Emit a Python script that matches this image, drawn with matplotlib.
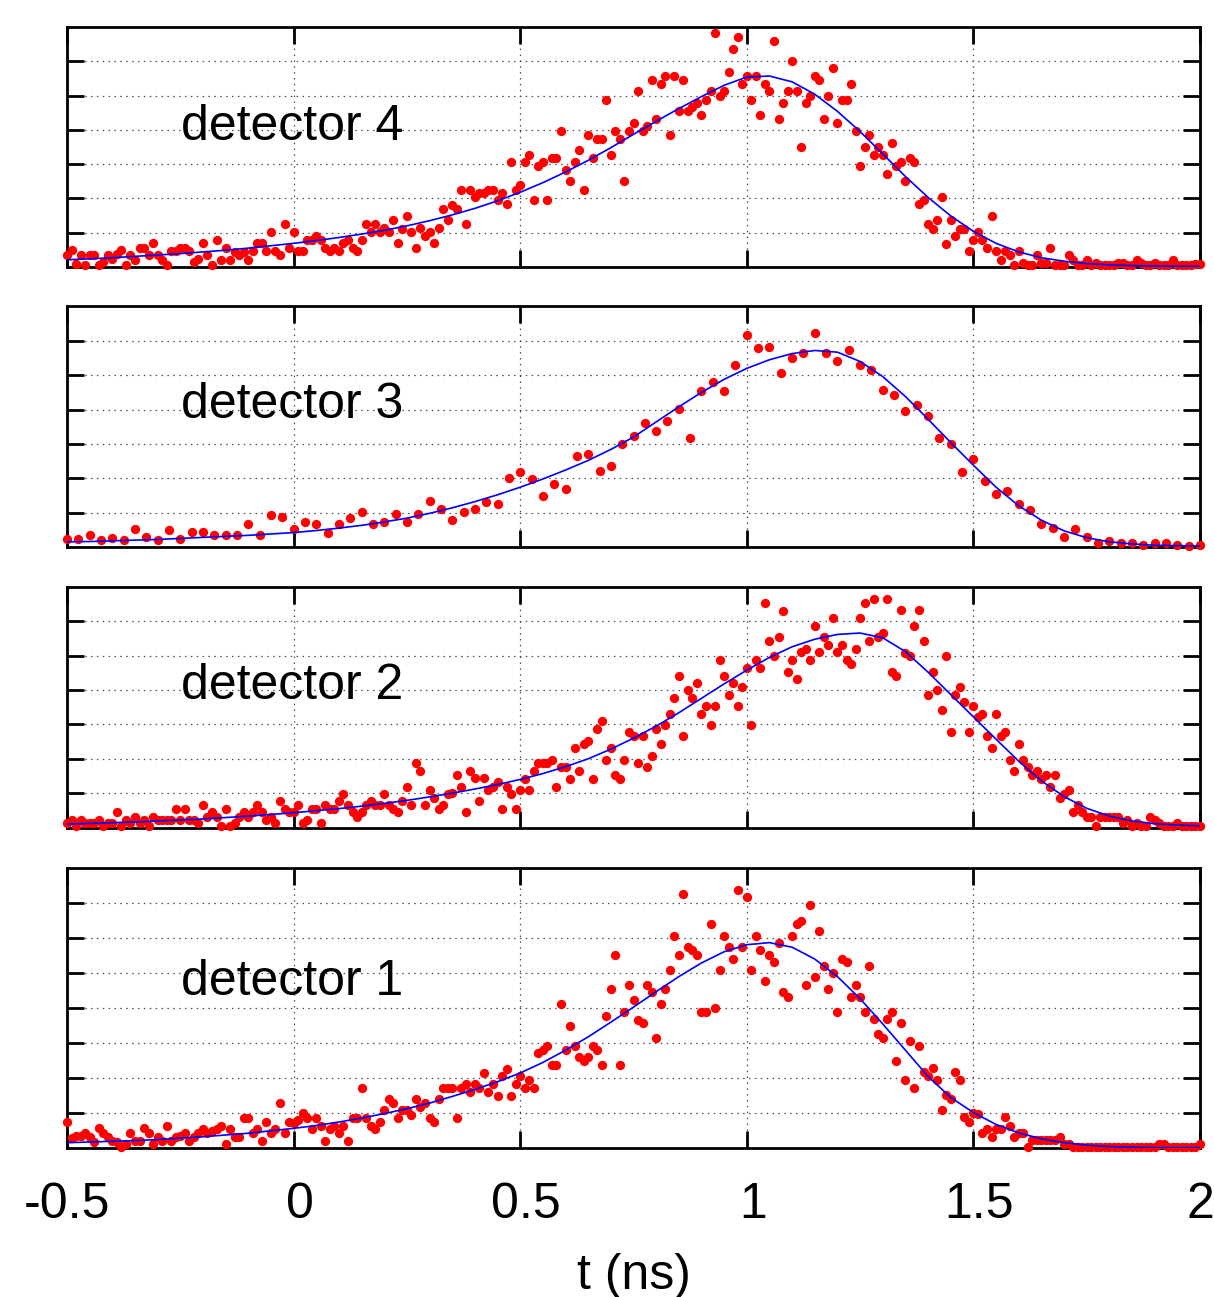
import numpy as np
import matplotlib
matplotlib.use("Agg")
import matplotlib.pyplot as plt
import matplotlib.transforms as mtransforms

plt.rcParams['font.family'] = ['Liberation Sans', 'DejaVu Sans']
plt.rcParams['axes.unicode_minus'] = False

# measured pulses, y in grid units (one unit per dotted line)
det4 = [0.34,0.49,0.10,0.34,0.05,0.34,0.34,0.05,0.15,0.34,
        0.24,0.39,0.49,0.05,0.34,0.21,0.56,0.56,0.34,0.70,
        0.34,0.21,0.05,0.47,0.47,0.56,0.56,0.47,0.15,0.24,
        0.70,0.34,0.05,0.78,0.21,0.56,0.21,0.44,0.34,0.44,
        0.21,0.47,0.70,0.70,0.47,1.02,0.47,0.34,1.24,0.56,
        1.02,0.47,0.47,0.78,0.78,0.89,0.78,0.56,0.47,0.56,
        0.47,0.70,0.78,0.56,0.47,0.78,1.24,1.02,1.24,1.02,
        1.15,1.02,1.36,0.70,1.12,1.48,1.02,0.56,1.15,0.89,
        1.02,0.70,1.15,1.70,
        1.36,1.80,1.70,2.26,1.24,2.26,2.04,2.16,2.16,2.26,
        2.26,1.94,2.16,1.83,3.06,2.26,2.38,3.06,3.28,1.94,
        2.94,3.06,1.94,3.18,3.18,3.98,2.83,2.50,3.06,3.40,
        2.26,3.85,3.18,3.74,3.74,4.88,3.28,3.98,3.74,2.50,
        3.98,4.21,5.12,3.98,4.10,5.46,4.32,5.34,5.58,3.85,
        5.58,4.54,5.46,4.54,4.66,4.78,4.44,4.88,5.12,6.82,
        5.00,5.12,5.68,6.36,6.72,5.34,5.58,4.88,5.58,4.44,
        5.34,5.12,6.58,4.32,4.78,5.12,6.02,5.12,3.51,4.78,
        5.00,5.58,5.46,4.32,5.00,5.81,
        4.19,4.88,4.88,5.34,3.98,2.94,3.51,3.85,3.28,3.51,
        3.28,2.72,3.63,2.94,3.06,2.50,3.18,3.06,1.83,1.94,
        1.24,1.12,1.36,2.04,0.68,1.36,0.89,1.12,1.12,0.46,
        0.78,1.02,0.78,0.56,1.48,0.46,0.21,0.46,0.34,0.05,
        0.46,0.12,0.05,0.05,0.34,0.12,0.12,0.56,0.05,0.05,
        0.05,0.34,0.21,0.05,0.05,0.21,0.05,0.12,0.05,0.05,
        0.05,0.05,0.12,0.12,0.05,0.05,0.21,0.12,0.05,0.05,
        0.12,0.05,0.05,0.05,0.21,0.05,0.05,0.05,0.05,0.10,
        0.10]

det3 = [0.24,0.24,0.34,0.20,0.26,0.20,0.53,0.30,0.20,0.50,
        0.24,0.45,0.45,0.34,0.34,0.34,0.68,0.34,0.92,0.87,
        0.53,0.73,0.68,0.40,0.68,0.83,1.02,0.68,0.73,0.97,
        0.73,0.97,1.34,1.12,
        0.78,1.02,1.12,1.31,1.26,2.02,2.17,1.97,1.49,1.83,
        1.68,2.65,2.70,2.21,2.36,2.99,3.23,3.62,3.38,3.67,
        4.01,3.18,4.54,4.79,4.54,5.30,6.17,5.79,5.83,5.06,
        5.50,5.64,6.22,5.64,
        5.40,5.74,5.30,5.16,4.57,4.43,3.96,4.14,3.82,3.18,
        2.99,2.18,2.55,1.92,1.53,1.63,1.26,1.07,0.68,0.56,
        0.29,0.53,0.29,0.13,0.17,0.13,0.13,0.05,0.13,0.13,
        0.05,0.03,0.05]

det2 = [0.13,0.22,0.03,0.22,0.13,0.13,0.13,0.22,0.03,0.13,
        0.13,0.44,0.03,0.22,0.13,0.32,0.13,0.22,0.03,0.32,
        0.22,0.22,0.22,0.22,0.53,0.22,0.53,0.22,0.22,0.13,
        0.65,0.32,0.44,0.32,0.03,0.53,0.03,0.13,0.32,0.44,
        0.32,0.44,0.65,0.44,0.22,0.32,0.13,0.78,0.53,0.44,
        0.44,0.65,0.13,0.22,0.53,0.53,0.13,0.65,0.53,0.53,
        0.78,0.98,0.65,0.44,0.32,0.44,0.65,0.78,0.65,0.65,
        0.98,0.65,0.53,0.44,0.78,1.19,0.65,1.87,1.65,0.65,
        1.10,0.85,0.53,0.65,0.98,
        1.00,1.53,1.19,0.44,1.65,1.44,0.78,1.44,1.10,1.19,
        1.31,0.53,1.19,0.98,0.53,1.10,1.42,1.10,1.65,1.87,
        1.87,1.87,1.97,1.19,1.76,1.76,1.42,2.31,1.65,2.44,
        2.53,1.42,2.86,3.09,1.97,2.31,1.53,1.42,1.97,2.77,
        2.65,1.87,2.65,1.76,2.09,2.86,2.43,2.99,3.31,3.77,
        4.42,2.65,3.99,3.77,4.20,3.31,3.54,2.99,3.54,4.88,
        4.42,3.86,4.20,3.54,4.09,4.64,2.99,4.88,4.64,6.53,
        5.42,4.98,5.54,6.31,4.54,4.88,4.32,5.10,5.19,4.88,
        5.87,5.10,5.54,5.32,
        6.10,5.10,5.32,4.88,4.77,5.20,6.10,6.53,5.42,6.65,
        5.54,5.66,6.65,4.54,4.42,6.32,5.08,4.98,5.87,6.32,
        5.42,3.86,4.54,3.99,3.43,4.98,2.77,3.86,4.09,3.64,
        2.77,3.54,3.21,3.31,2.65,2.31,3.31,2.65,2.77,1.97,
        1.65,2.43,1.97,1.76,1.53,1.65,1.42,1.53,1.19,1.53,
        0.87,0.98,1.10,0.44,0.66,0.44,0.32,0.32,0.03,0.32,
        0.32,0.32,0.32,0.32,0.13,0.22,0.03,0.13,0.03,0.03,
        0.32,0.22,0.13,0.03,0.03,0.03,0.13,0.03,0.03,0.03,
        0.03,0.03]

det1 = [0.76,0.29,0.35,0.35,0.43,0.31,0.19,0.57,0.43,0.31,
        0.22,0.19,0.03,0.12,0.43,0.22,0.22,0.57,0.43,0.12,
        0.31,0.22,0.65,0.22,0.31,0.35,0.43,0.22,0.31,0.43,
        0.54,0.43,0.48,0.54,0.65,0.12,0.54,0.31,0.31,0.86,
        0.86,0.43,0.54,0.22,0.76,0.43,0.54,1.30,0.43,0.76,
        0.71,0.81,1.00,0.86,0.54,0.86,0.65,0.22,0.54,0.65,
        0.43,0.65,0.22,0.86,0.86,1.73,0.86,0.65,0.54,0.76,
        1.08,1.40,1.30,0.86,1.08,1.08,0.95,1.40,1.19,1.30,
        0.86,0.76,1.40,1.73,1.73,
        1.71,0.86,1.71,1.84,1.62,1.84,1.71,2.16,1.62,1.84,
        1.50,2.05,2.26,1.50,1.84,2.05,1.71,1.95,1.71,2.71,
        2.81,2.92,2.38,2.38,4.11,2.81,3.48,2.92,2.60,2.48,
        2.60,2.92,2.81,2.38,3.79,4.54,5.52,2.38,3.89,4.67,
        4.22,3.67,3.57,4.67,4.45,3.14,4.11,4.54,5.10,6.07,
        5.52,7.27,5.74,5.65,5.52,3.89,3.89,6.40,4.00,5.10,
        6.07,5.74,5.41,7.36,5.74,7.16,5.10,6.07,5.65,4.78,
        5.52,5.31,5.86,4.45,4.33,6.07,6.40,6.50,4.67,6.93,
        4.88,6.19,5.21,4.54,
        5.00,3.90,5.40,5.31,4.33,4.67,4.33,3.90,5.21,3.69,
        3.27,3.14,3.69,3.90,2.50,3.57,1.95,3.05,1.73,2.93,
        2.19,2.07,2.29,1.95,1.10,1.52,1.40,2.19,1.95,0.89,
        0.76,1.00,0.98,0.45,0.54,0.33,0.54,0.54,0.89,0.65,
        0.33,0.45,0.45,0.03,0.24,0.24,0.24,0.24,0.24,0.24,
        0.33,0.12,0.12,0.03,0.03,0.03,0.03,0.03,0.03,0.03,
        0.03,0.03,0.03,0.03,0.03,0.03,0.03,0.03,0.03,0.03,
        0.03,0.03,0.12,0.12,0.03,0.03,0.03,0.03,0.03,0.03,
        0.03,0.12]

# fitted curves, sampled every 0.05 ns from -0.5 to 2
fit4 = [0.21,0.24,0.27,0.31,0.35,0.39,0.44,0.49,0.55,0.62,
        0.69,0.77,0.86,0.96,1.07,1.20,1.35,1.52,1.71,1.93,
        2.18,2.46,2.77,3.11,3.48,3.87,4.25,4.62,4.97,5.30,
        5.54,5.57,5.40,5.04,4.54,3.95,3.30,2.64,2.03,1.49,
        1.04,0.69,0.44,0.27,0.17,0.10,0.06,0.04,0.03,0.02,0.02]
fit3 = [0.15,0.16,0.18,0.20,0.22,0.25,0.28,0.31,0.34,0.38,
        0.42,0.48,0.55,0.63,0.73,0.84,0.98,1.14,1.32,1.52,
        1.74,1.98,2.24,2.52,2.84,3.20,3.64,4.08,4.50,4.88,
        5.20,5.45,5.63,5.72,5.67,5.40,4.96,4.38,3.72,3.04,
        2.38,1.74,1.20,0.78,0.47,0.27,0.15,0.09,0.05,0.04,0.03]
fit2 = [0.10,0.12,0.14,0.16,0.19,0.22,0.25,0.29,0.33,0.38,
        0.43,0.49,0.55,0.62,0.70,0.79,0.89,1.00,1.12,1.25,
        1.40,1.57,1.77,2.00,2.28,2.60,2.95,3.34,3.76,4.18,
        4.58,4.95,5.26,5.48,5.62,5.66,5.52,5.12,4.52,3.87,
        3.22,2.57,1.93,1.36,0.90,0.56,0.33,0.19,0.11,0.07,0.05]
fit1 = [0.16,0.18,0.20,0.22,0.25,0.29,0.33,0.38,0.43,0.50,
        0.57,0.65,0.75,0.86,0.99,1.13,1.29,1.48,1.68,1.90,
        2.15,2.45,2.80,3.18,3.60,4.03,4.47,4.90,5.29,5.61,
        5.81,5.87,5.74,5.40,4.90,4.27,3.55,2.80,2.05,1.45,
        1.02,0.68,0.44,0.27,0.16,0.09,0.05,0.03,0.02,0.02,0.02]

labels = ["detector 4", "detector 3", "detector 2", "detector 1"]
xticks = [-0.5, 0, 0.5, 1, 1.5, 2]
xticklabels = ["-0.5", "0", "0.5", "1", "1.5", "2"]

W, H = 1214, 1297
fig = plt.figure(figsize=(W/100, H/100), dpi=100)

# panel boxes in pixels (top, bottom)
boxes = [(27, 267), (306.5, 547), (587, 827.5), (868, 1148.3)]
left, right = 67, 1200
data = [(det4, fit4, 7), (det3, fit3, 7), (det2, fit2, 7), (det1, fit1, 8)]
label_y = [0.585, 0.59, 0.59, 0.595]

for k, ((top, bot), (pts, fit, ny), lab) in enumerate(zip(boxes, data, labels)):
    ax = fig.add_axes([left/W, (H-bot)/H, (right-left)/W, (bot-top)/H])
    t_pts = np.linspace(-0.5, 2.0, len(pts))
    t_fit = np.linspace(-0.5, 2.0, len(fit))
    ax.plot(t_pts, pts, 'o', ms=6.7, color='#ff0000', mec='none',
            clip_on=False, zorder=3)
    ax.plot(t_fit, fit, '-', color='#0000ff', lw=1.2, zorder=4)
    ax.set_xlim(-0.5, 2.0)
    ax.set_ylim(0, ny)
    ax.set_xticks(xticks)
    ax.set_yticks(range(1, ny))
    ax.grid(True, color='0.3', linestyle=(0, (1.2, 3.5)), linewidth=0.9)
    ax.tick_params(direction='in', length=12, width=2, top=True, right=True,
                   labelleft=False, labelbottom=(k == 3), labelsize=36, pad=24)
    for sp in ax.spines.values():
        sp.set_linewidth(2)
    ax.text(0.1006, label_y[k], lab, transform=ax.transAxes, fontsize=36,
            ha='left', va='center')
    if k == 3:
        ax.set_xticklabels(xticklabels)
        ax.set_xlabel("t (ns)", fontsize=36, labelpad=18)
        shift = mtransforms.ScaledTranslation(6/100, 0, fig.dpi_scale_trans)
        for lbl in ax.get_xticklabels()[1:-1]:
            lbl.set_transform(lbl.get_transform() + shift)

fig.savefig("out.png", dpi=100)
